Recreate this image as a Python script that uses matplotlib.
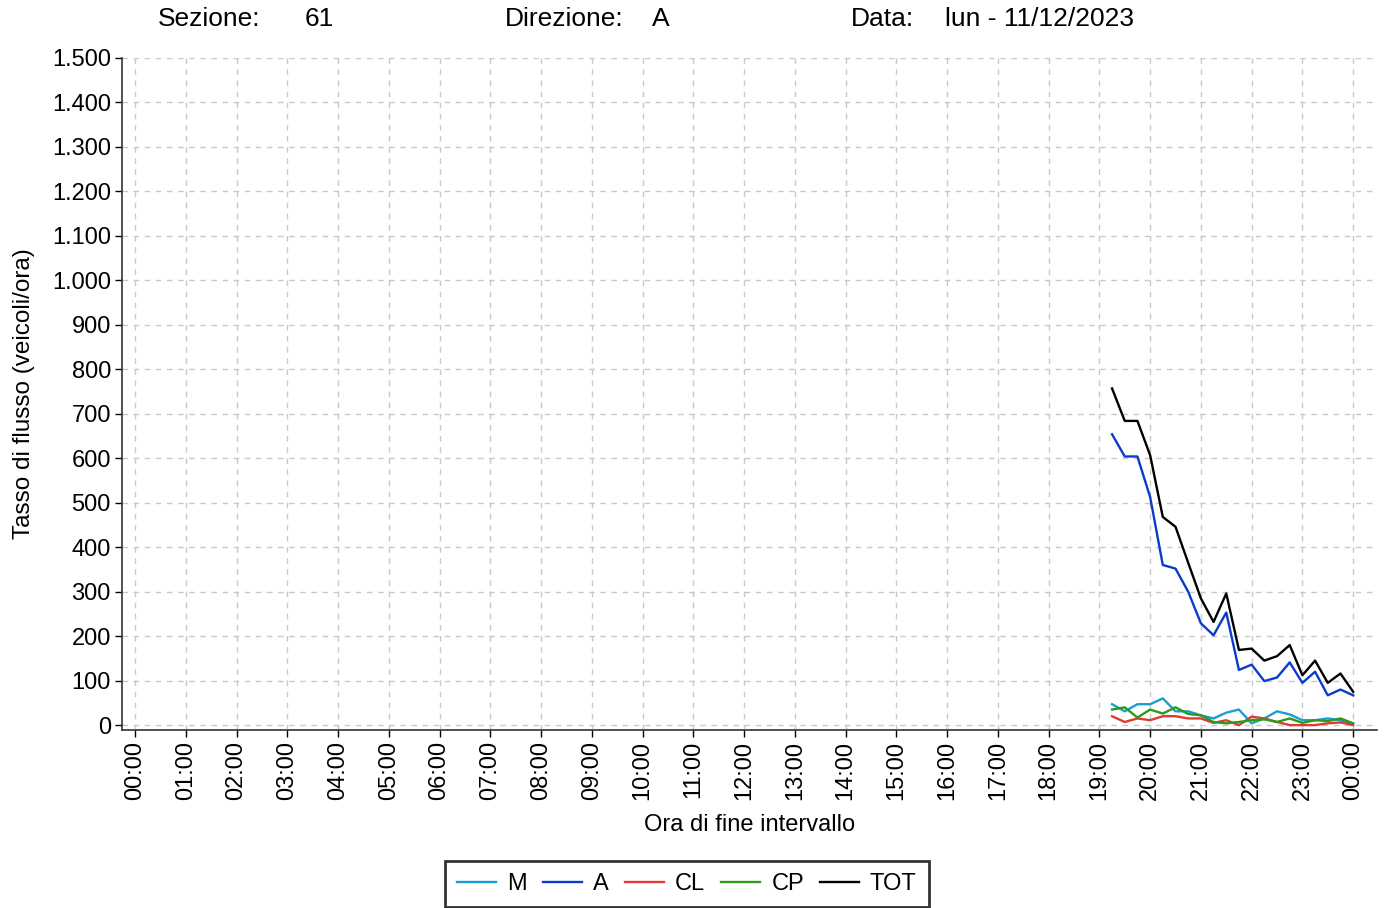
import numpy as np
import matplotlib
matplotlib.use('Agg')
import matplotlib.pyplot as plt

plt.rcParams['font.family'] = ['Liberation Sans', 'DejaVu Sans']

# 15-minute intervals, 19:15 -> 24:00 (hours)
hours = [19.25 + 0.25 * i for i in range(20)]

M = [47, 31, 47, 47, 60, 31, 31, 22, 15, 28, 35, 4, 15, 31, 24, 11, 11, 15, 11, 4]
A = [654, 604, 604, 513, 360, 352, 300, 229, 202, 253, 124, 136, 99, 107, 141, 95, 120, 67, 80, 67]
CL = [20, 7, 15, 11, 20, 20, 15, 15, 5, 11, 0, 19, 15, 7, 0, 0, 0, 4, 6, 0]
CP = [35, 40, 17, 35, 26, 40, 25, 22, 7, 4, 7, 11, 13, 7, 15, 5, 11, 9, 15, 4]
TOT = [757, 684, 684, 607, 468, 446, 365, 285, 232, 296, 169, 172, 145, 155, 180, 112, 145, 95, 116, 75]

series = [('M', M, '#1a9fd0'), ('A', A, '#0a3ccc'), ('CL', CL, '#e03a34'),
          ('CP', CP, '#2e9a18'), ('TOT', TOT, '#000000')]

x_ticks = list(range(25))
x_labels = [f"{h % 24:02d}:00" for h in x_ticks]
y_ticks = list(range(0, 1600, 100))
y_labels = [f"{v:,}".replace(',', '.') for v in y_ticks]

fig = plt.figure(figsize=(13.86, 9.08), dpi=100)
ax = fig.add_axes([122 / 1386, 178 / 908, 1255 / 1386, 672 / 908])

for name, vals, col in series:
    ax.plot(hours, vals, color=col, lw=1.7, label=name)

ax.set_xlim(-0.256, 24.47)
ax.set_ylim(-11, 1500)
ax.set_xticks(x_ticks)
ax.set_xticklabels(x_labels, rotation=90, fontsize=17)
ax.set_yticks(y_ticks)
ax.set_yticklabels(y_labels, fontsize=17)
ax.tick_params(direction='out', length=5, width=1, colors='black', pad=3)
for s in ['top', 'right']:
    ax.spines[s].set_visible(False)
for s in ['left', 'bottom']:
    ax.spines[s].set_color('#333333')
    ax.spines[s].set_linewidth(1.2)
ax.grid(True, color='#c8c8c8', ls=(0, (4, 4)), lw=1)
ax.set_axisbelow(True)

ax.set_xlabel('Ora di fine intervallo', fontsize=17, labelpad=10)
ax.set_ylabel('Tasso di flusso (veicoli/ora)', fontsize=17.5, labelpad=12)

# header
hy = 1 - 19 / 908
fig.text(158 / 1386, hy, 'Sezione:', fontsize=19, va='center')
fig.text(305 / 1386, hy, '61', fontsize=19, va='center')
fig.text(505 / 1386, hy, 'Direzione:', fontsize=19, va='center')
fig.text(652 / 1386, hy, 'A', fontsize=19, va='center')
fig.text(851 / 1386, hy, 'Data:', fontsize=19, va='center')
fig.text(945 / 1386, hy, 'lun - 11/12/2023', fontsize=19, va='center')

leg = fig.legend(loc='center', bbox_to_anchor=(687 / 1386, 1 - 884 / 908), ncol=5,
                 fontsize=17, frameon=True, fancybox=False, edgecolor='black',
                 handlelength=1.65, handletextpad=0.47, columnspacing=0.68,
                 borderpad=0.5, borderaxespad=0)
leg.get_frame().set_linewidth(2)

plt.savefig('out.png', dpi=100)
